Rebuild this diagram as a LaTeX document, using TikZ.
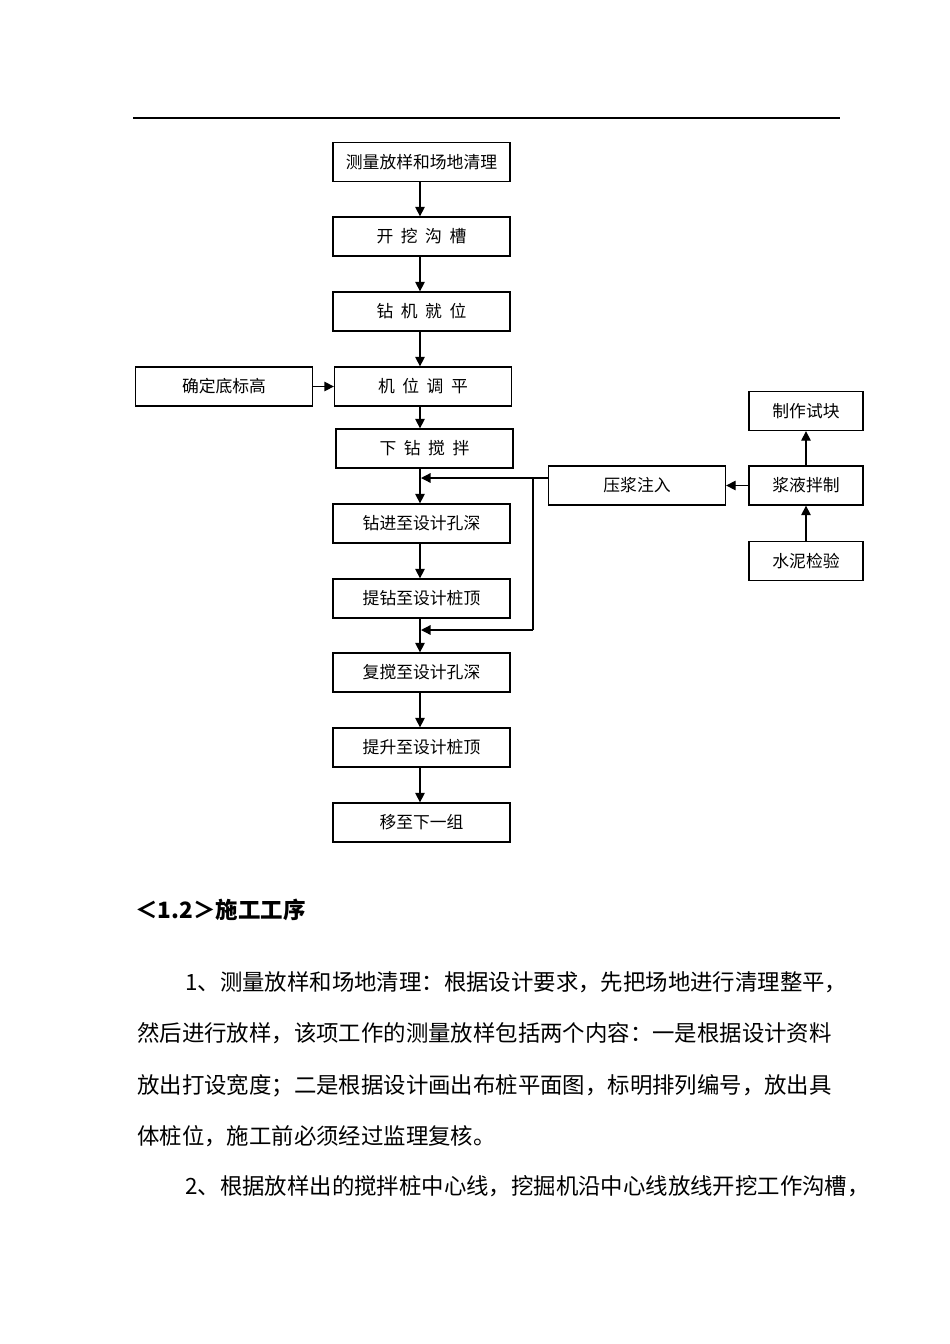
\documentclass[tikz,border=0pt]{standalone}
\usepackage{fontspec}
\newfontfamily\cjk{Noto Sans CJK SC}
\usetikzlibrary{arrows.meta}
\begin{document}
\begin{tikzpicture}[x=1pt,y=-1pt,
  box/.style={draw,line width=1.3pt,minimum width=177pt,minimum height=39pt,inner sep=0pt,font=\cjk\fontsize{16.8}{19}\selectfont},
  sbox/.style={box,minimum width=114pt},
  arr/.style={line width=1.3pt,-{Triangle[length=9.5pt,width=9.5pt]}},
  ln/.style={line width=1.3pt},
  body/.style={anchor=base west,inner sep=0pt,font=\cjk\fontsize{22.4}{26}\selectfont}]
\useasboundingbox (0,0) rectangle (950,1344);
\fill[white] (0,0) rectangle (950,1344);
\coordinate (hl) at (133,118);
\coordinate (hr) at (840,118);
\draw[line width=1.5pt] (hl) -- (hr);
% main column
\node[box] (b1) at (421.5,162) {测量放样和场地清理};
\node[box] (b2) at (421.5,236.5) {开\hspace{7.5pt}挖\hspace{7.5pt}沟\hspace{7.5pt}槽};
\node[box] (b3) at (421.5,311.5) {钻\hspace{7.5pt}机\hspace{7.5pt}就\hspace{7.5pt}位};
\node[box] (b4) at (423,386.5) {机\hspace{7.5pt}位\hspace{7.5pt}调\hspace{7.5pt}平};
\node[box] (b5) at (424.5,448.5) {下\hspace{7.5pt}钻\hspace{7.5pt}搅\hspace{7.5pt}拌};
\node[box] (b6) at (421.5,523.5) {钻进至设计孔深};
\node[box] (b7) at (421.5,598.5) {提钻至设计桩顶};
\node[box] (b8) at (421.5,672.5) {复搅至设计孔深};
\node[box] (b9) at (421.5,747.5) {提升至设计桩顶};
\node[box] (b10) at (421.5,822.5) {移至下一组};
% side boxes
\node[box] (dd) at (224,386.5) {确定底标高};
\node[box] (yj) at (637,485.5) {压浆注入};
\node[sbox] (jy) at (806,485.5) {浆液拌制};
\node[sbox] (zz) at (806,411) {制作试块};
\node[sbox] (sn) at (806,561) {水泥检验};
% main arrows
\coordinate (col) at (420,0);
\draw[arr] (b1.south -| col) -- (b2.north -| col);
\draw[arr] (b2.south -| col) -- (b3.north -| col);
\draw[arr] (b3.south -| col) -- (b4.north -| col);
\draw[arr] (b4.south -| col) -- (b5.north -| col);
\draw[arr] (b5.south -| col) -- (b6.north -| col);
\draw[arr] (b6.south -| col) -- (b7.north -| col);
\draw[arr] (b7.south -| col) -- (b8.north -| col);
\draw[arr] (b8.south -| col) -- (b9.north -| col);
\draw[arr] (b9.south -| col) -- (b10.north -| col);
% side arrows
\draw[arr] (dd.east) -- (b4.west);
\draw[arr] (jy.west) -- (yj.east);
\draw[arr] (jy.north) -- (zz.south);
\draw[arr] (sn.north) -- (jy.south);
% grout feed
\coordinate (j1) at (421,478);
\coordinate (j2) at (421,630);
\coordinate (k1) at (533,478);
\coordinate (k2) at (533,630);
\draw[arr] (yj.west |- j1) -- (j1);
\draw[ln] (k1) -- (k2);
\draw[arr] (k2) -- (j2);
% text
\node[anchor=base west,inner sep=0pt,font=\cjk\bfseries\fontsize{22.5}{26}\selectfont] (h) at (135,918) {＜1.2＞施工工序};
\node[body] (p1) at (185,990) {1、测量放样和场地清理：根据设计要求，先把场地进行清理整平，};
\node[body] (p2) at (137,1041) {然后进行放样，该项工作的测量放样包括两个内容：一是根据设计资料};
\node[body] (p3) at (137,1093) {放出打设宽度；二是根据设计画出布桩平面图，标明排列编号，放出具};
\node[body] (p4) at (137,1144) {体桩位，施工前必须经过监理复核。};
\node[body] (p5) at (185,1194) {2、根据放样出的搅拌桩中心线，挖掘机沿中心线放线开挖工作沟槽，};
\end{tikzpicture}
\end{document}
